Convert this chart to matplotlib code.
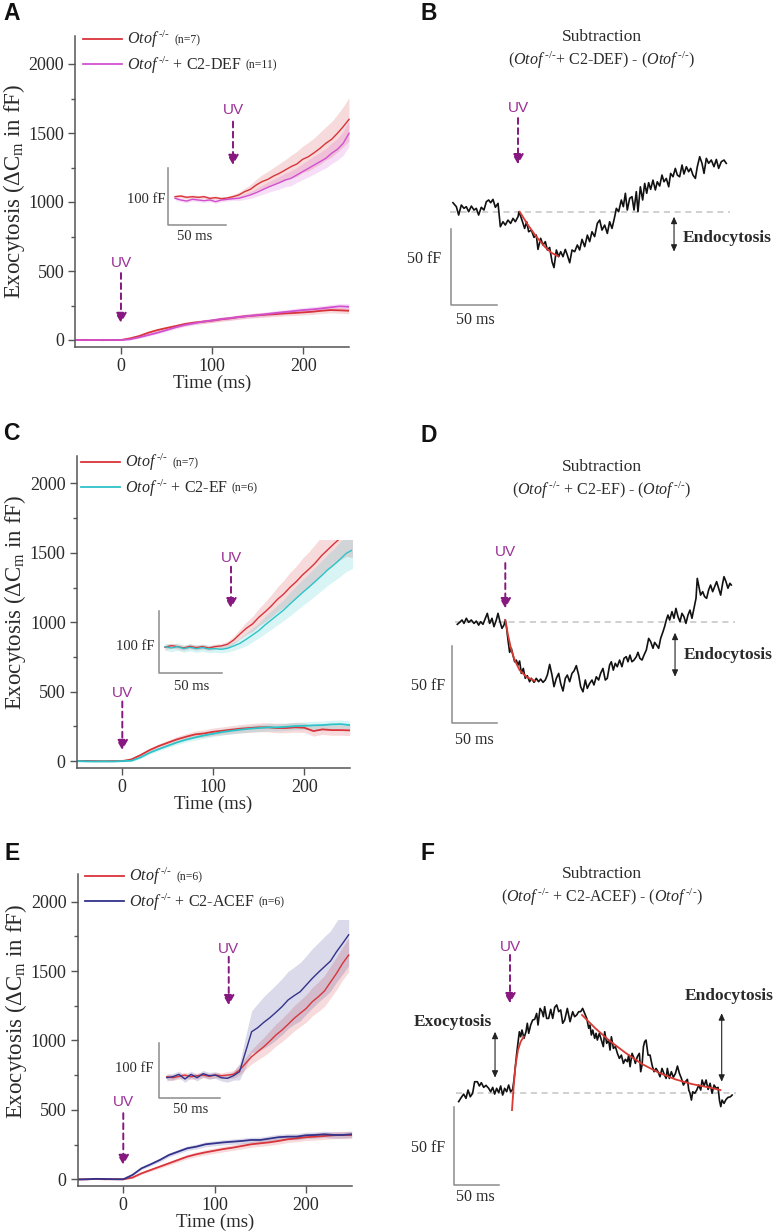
import matplotlib
matplotlib.use("Agg")
import matplotlib.pyplot as plt
from matplotlib.ticker import MultipleLocator

W, H = 777, 1232

plt.rcParams['font.family'] = 'Liberation Serif'
plt.rcParams['mathtext.fontset'] = 'custom'
plt.rcParams['mathtext.rm'] = 'Liberation Serif'
plt.rcParams['mathtext.it'] = 'Liberation Serif:italic'
plt.rcParams['mathtext.bf'] = 'Liberation Serif:bold'

# ---------------- main traces, mean dCm (fF), every 10 ms ----------------
time_ms = [-50, -40, -30, -20, -10, 0, 10, 20, 30, 40, 50, 60, 70, 80, 90, 100,
           110, 120, 130, 140, 150, 160, 170, 180, 190, 200, 210, 220, 230, 240, 250]

a_ko = [0, 1, 0, -1, 0, 0, 12, 29, 53, 72, 87, 101, 116, 126, 133, 140,
        150, 157, 167, 174, 179, 184, 188, 193, 196, 200, 205, 212, 217, 215, 212]
a_ko_sem = [3, 3, 3, 3, 3, 3, 5, 7, 9, 10, 11, 12, 13, 13, 14, 14,
            15, 15, 16, 16, 17, 17, 18, 18, 19, 19, 20, 20, 21, 21, 22]
a_def = [0, -1, 0, 1, 0, 0, 5, 19, 36, 53, 72, 92, 109, 121, 133, 142,
         152, 159, 167, 174, 181, 188, 196, 203, 210, 217, 222, 229, 237, 244, 241]
a_def_sem = [3, 3, 3, 3, 3, 3, 4, 6, 8, 9, 10, 11, 12, 12, 13, 13,
             14, 14, 15, 15, 16, 16, 17, 17, 18, 18, 19, 19, 20, 20, 21]

c_ko = [0, 1, 0, -1, 0, 0, 12, 43, 79, 108, 132, 156, 175, 192, 199, 211,
        218, 226, 233, 238, 243, 243, 238, 238, 243, 240, 216, 228, 223, 223, 221]
c_ko_sem = [4, 4, 4, 4, 4, 4, 6, 9, 12, 15, 18, 20, 22, 24, 26, 27,
            28, 29, 30, 31, 32, 33, 34, 34, 35, 35, 36, 36, 37, 37, 38]
c_ef = [0, -2, -3, -2, -3, 0, 2, 26, 60, 86, 110, 134, 154, 170, 185, 197,
        209, 218, 226, 233, 238, 243, 243, 247, 252, 254, 257, 259, 264, 266, 259]
c_ef_sem = [5, 5, 5, 5, 5, 5, 6, 8, 10, 12, 14, 16, 18, 19, 20, 21,
            22, 23, 24, 25, 26, 26, 27, 27, 28, 28, 29, 29, 30, 30, 30]

e_ko = [0, 0, 2, 0, 1, 0, 12, 43, 67, 91, 115, 139, 163, 180, 194, 206,
        218, 228, 240, 252, 259, 266, 276, 288, 295, 303, 307, 312, 317, 319, 319]
e_ko_sem = [3, 3, 3, 3, 3, 3, 5, 8, 10, 12, 14, 15, 16, 17, 18, 19,
            20, 20, 21, 21, 22, 22, 23, 23, 24, 24, 25, 25, 25, 26, 26]
e_acef = [-2, 0, 3, 2, 0, 0, 31, 79, 108, 139, 175, 199, 223, 235, 252, 259,
          266, 271, 276, 283, 283, 293, 303, 307, 307, 317, 319, 324, 319, 319, 324]
e_acef_sem = [3, 3, 3, 3, 3, 3, 6, 9, 11, 13, 14, 15, 16, 17, 18, 18,
              19, 19, 20, 20, 20, 21, 21, 21, 22, 22, 22, 22, 23, 23, 23]

# ---------------- inset traces, every 5 ms ----------------
inset_ms = [-50, -45, -40, -35, -30, -25, -20, -15, -10, -5, 0, 5, 10, 15, 20, 25,
            30, 35, 40, 45, 50, 55, 60, 65, 70, 75, 80, 85, 90, 95, 100]

ia_ko = [2.3, 3.5, 1.2, 2.3, 1.2, 2.3, -0.6, 0.6, -1.2, 0, 2.3, 5.3, 11.1, 15.2, 22.8, 28.7,
         32.7, 38.6, 43.3, 49.1, 55, 59.6, 67.8, 72.5, 79.5, 87.1, 95.9, 102.9, 113.5, 125.1, 138]
ia_ko_sem = [3, 3, 3, 3, 3, 3, 3, 3, 3, 3, 4, 5, 6, 8, 10, 12,
             14, 15, 17, 18, 20, 22, 23, 25, 26, 28, 29, 31, 33, 35, 38]
ia_def = [-0.6, -3.5, -5.3, -2.3, -3.5, -4.7, -3.5, -6.4, -3.5, -2.3, -1.2, -0.6, 2.3, 5.3, 9.4, 14,
          18.7, 22.8, 26.9, 31.6, 34.5, 40.4, 46.2, 52, 57.9, 63.7, 69.6, 78.4, 85.4, 95.9, 113.5]
ia_def_sem = [3, 3, 3, 3, 3, 3, 3, 3, 3, 3, 3, 4, 5, 6, 7, 8,
              9, 10, 11, 12, 13, 13, 14, 15, 16, 16, 17, 18, 19, 21, 23]

ic_ko = [0, 2.7, 1.1, -1.1, 1.6, -0.5, 1.1, -1.1, 1.1, 2.2, 4.9, 11.8, 21.5, 30.6, 37.6, 48.4,
         57, 66.6, 77.4, 86, 96.8, 105.9, 116.7, 125.8, 135.5, 147.3, 157, 166.6, 175.8, 182.7, 181.7]
ic_ko_sem = [4, 4, 4, 4, 4, 4, 4, 4, 4, 4, 5, 6, 8, 10, 12, 14,
             16, 18, 20, 22, 24, 25, 27, 28, 30, 31, 32, 33, 35, 36, 37]
ic_ef = [1.1, -1.1, 1.1, -2.2, 0, -2.2, -0.5, -2.7, -2.2, -3.2, -1.6, 2.2, 6.5, 12.9, 19.9, 26.9,
         36, 44.1, 52.2, 60.2, 69.9, 79, 88.2, 96.8, 105.9, 115, 124.7, 132.8, 141.9, 151.6, 157]
ic_ef_sem = [6, 6, 6, 6, 6, 6, 6, 6, 6, 6, 6, 7, 8, 10, 11, 12,
             14, 15, 16, 17, 19, 20, 21, 22, 23, 24, 25, 26, 28, 29, 30]

ie_ko = [0, -1.8, 0.6, 3, 0, 1.8, 3, 0.6, 3, 1.8, 3, 4.2, 12.1, 24.2, 36.4, 45.5,
         54.5, 64.8, 75.8, 84.8, 95.2, 106.1, 115.2, 124.2, 136.4, 145.5, 155.8, 172, 188, 206.1, 221.2]
ie_ko_sem = [5, 5, 5, 5, 5, 5, 5, 5, 5, 5, 6, 7, 9, 11, 13, 15,
             17, 19, 20, 21, 22, 23, 24, 25, 26, 27, 28, 29, 30, 30, 31]
ie_acef = [-1.8, 0, 4.2, -4.2, 4.2, -1.8, 5.5, 1.8, 3, -1.8, -3, 1.8, 9.1, 45.5, 81.8, 89.1,
           98.8, 107.3, 117, 127.3, 139.4, 147.3, 154.5, 166.7, 178.8, 189.7, 200, 210.3, 227.3, 242.4, 258]
ie_acef_sem = [6, 6, 6, 6, 6, 6, 6, 6, 6, 6, 7, 8, 15, 28, 38, 44,
               47, 49, 50, 51, 52, 52, 53, 53, 54, 54, 55, 55, 55, 56, 56]

# ---------------- subtraction traces (ms, fF) ----------------
b_t = [-70.7, -67.0, -64.5, -61.6, -58.7, -56.2, -53.6, -50.7, -47.8, -45.3, -42.8, -39.9, -37.0,
       -34.4, -31.9, -29.7, -27.2, -24.6, -21.7, -19.2, -16.3, -13.8, -10.9, -8.0, -5.4, -2.9, 0.0,
       1.1, 4.3, 7.2, 9.4, 11.6, 14.5, 17.4, 19.9, 21.7, 24.6, 27.2, 29.7, 31.9, 34.4, 37.0, 39.1,
       41.7, 44.2, 46.4, 48.9, 51.4, 53.6, 56.2, 58.7, 61.6, 64.5, 67.0, 69.6, 72.5, 75.4, 77.9,
       80.4, 83.3, 86.2, 88.8, 91.3, 94.2, 97.1, 99.6, 102.2, 105.1, 106.9, 109.4, 112.3, 114.5,
       116.7, 118.8, 121.4, 123.9, 126.1, 128.6, 130.4, 133.0, 135.5, 137.7, 139.9, 142.0, 144.2,
       146.7, 149.3, 151.4, 154.0, 156.5, 158.7, 161.2, 163.8, 165.9, 168.5, 171.0, 173.2, 175.7,
       178.3, 180.4, 183.0, 185.5, 187.7, 190.2, 192.8, 194.9, 197.5, 200.0, 202.2, 204.7, 207.2,
       210.1, 213.0, 215.6, 218.1, 221.0, 223.9, 226.4]
b_ff = [5.9, 3.3, -2.2, 4.4, 2.2, 3.3, 0, 3.7, 1.1, 2.2, -2.2, 2.9, 1.1,
        6.6, 7.7, 5.9, 8.1, 2.9, 5.5, -9.9, -6.6, -8.8, -5.5, -7.7, -4.4, -6.6, -3.3,
        0, -5.5, -11.0, -6.6, -13.2, -12.1, -16.9, -15.4, -24.8, -17.5, -21.9, -19.7, -25.2, -23.5, -32.9, -36.8,
        -25.2, -29.6, -26.3, -29.6, -24.8, -28.5, -33.6, -25.2, -26.3, -21.9, -25.2, -18.2, -23.0, -15.4, -19.7,
        -13.2, -16.4, -7.7, -5.5, -12.1, -8.8, -14.3, -6.6, -11.0, -3.3, 2.2, 0, 7.7, 3.3,
        12.1, 1.1, 8.8, 9.9, 1.1, 13.2, 0, 16.4, 7.7, 18.6, 12.1, 19.1, 14.7,
        20.8, 14.3, 19.7, 16.9, 24.1, 19.7, 21.9, 16.4, 25.2, 23.0, 28.5, 24.1, 23.0,
        30.7, 24.8, 29.6, 26.3, 28.5, 24.1, 21.9, 29.6, 36.2, 31.8, 25.2, 35.1, 31.8,
        34.0, 29.6, 34.4, 28.5, 32.9, 34.0, 31.8]
b_fit_t = [1.8, 10.9, 19.9, 29.0, 36.2, 43.5]
b_fit_ff = [0, -8.8, -16.4, -23.0, -27.0, -29.2]

d_t = [-53.3, -50.7, -48.1, -45.9, -43.3, -40.7, -37.8, -34.8, -32.2, -29.6, -27.4, -24.8, -22.2,
       -20.0, -17.4, -14.8, -12.6, -10.0, -8.1, -5.9, -3.7, -1.5, 0.0, 1.5, 3.0, 4.8, 6.7, 8.5,
       10.4, 12.2, 14.1, 15.9, 17.8, 20.0, 22.2, 24.4, 27.0, 28.9, 31.9, 34.4, 37.0, 39.3, 41.9,
       44.4, 46.7, 49.3, 51.9, 54.1, 56.7, 59.3, 61.5, 64.1, 66.7, 68.9, 71.5, 74.1, 76.3, 78.9,
       81.5, 83.7, 86.3, 88.9, 91.1, 93.7, 96.3, 98.5, 101.1, 103.7, 105.9, 108.5, 111.1, 113.3,
       115.9, 117.8, 120.0, 122.2, 124.4, 127.0, 129.6, 131.9, 134.4, 136.3, 138.5, 140.7, 143.0,
       145.6, 147.4, 149.6, 151.9, 154.1, 156.7, 159.3, 161.5, 164.1, 165.9, 168.1, 170.4, 172.6,
       175.2, 177.0, 178.9, 180.7, 182.6, 185.2, 187.4, 189.6, 191.9, 194.1, 196.3, 198.5, 200.7,
       203.0, 205.2, 207.4, 209.6, 211.9, 213.3, 214.8, 217.0, 219.3, 221.5, 223.7, 225.9, 228.1,
       230.4, 232.6, 234.8, 237.0, 239.3, 241.5, 243.0, 245.2, 247.4, 249.6, 251.1]
d_ff = [-1.7, -0.4, 1.1, -1.1, 2.2, -0.4, 1.1, -1.1, 0.4, -2.2, 0, -1.7, 2.2,
        5.4, -1.1, 2.2, -3.2, 1.1, 5.4, 0, -4.3, -2.2, 1.1, -4.3, -11.9, -19.8, -17.2, -21.6,
        -25.9, -24.8, -28.0, -25.4, -33.4, -30.2, -36.6, -34.9, -38.8, -36.6, -39.2, -36.6, -38.8, -37.1, -39.2,
        -37.7, -34.5, -27.6, -34.5, -42.0, -36.6, -33.4, -39.9, -44.8, -36.6, -34.5, -38.8, -33.4, -31.9, -28.4,
        -34.5, -42.0, -45.3, -37.7, -43.1, -39.9, -37.7, -40.9, -35.6, -37.7, -33.4, -30.2, -37.7, -36.6,
        -28.0, -25.9, -31.3, -26.9, -29.1, -24.8, -29.1, -23.7, -22.6, -25.9, -21.6, -25.9, -24.8,
        -22.6, -19.8, -23.7, -24.8, -21.6, -18.3, -10.8, -12.9, -17.2, -13.4, -15.1, -17.2, -10.8,
        -6.5, -3.2, 1.1, 4.3, 1.1, 6.5, 2.2, 8.6, 3.2, 0, 5.4, 3.2, -1.1,
        4.3, 7.5, 2.2, 8.6, 15.1, 28.0, 23.7, 17.2, 19.4, 16.2, 15.1, 20.5, 23.7,
        19.4, 22.6, 25.9, 21.6, 17.2, 24.8, 29.1, 25.9, 21.6, 24.8, 23.7]
d_fit_t = [0.0, 3.0, 6.7, 10.4, 15.9, 23.3, 33.3]
d_fit_ff = [1.1, -8.6, -18.3, -24.8, -31.3, -35.6, -38.4]

f_t = [-56.6, -53.7, -51.1, -48.5, -46.3, -43.8, -41.2, -39.0, -36.0, -33.8, -31.6, -29.0, -26.5,
       -23.5, -21.3, -19.1, -16.9, -14.7, -12.5, -10.3, -8.1, -5.9, -3.7, -1.5, 0.7, 2.9, 4.4, 5.9,
       7.4, 8.8, 10.3, 11.8, 13.2, 15.4, 17.6, 19.1, 20.6, 22.8, 25.0, 27.2, 29.4, 30.9, 33.1, 35.3,
       36.8, 38.2, 40.4, 42.6, 44.9, 47.1, 49.3, 51.5, 53.7, 55.9, 58.1, 60.3, 63.2, 66.2, 69.1,
       71.3, 73.5, 75.7, 77.9, 80.1, 82.4, 84.6, 86.8, 88.2, 89.7, 91.2, 93.4, 94.9, 96.3, 98.5,
       100.7, 102.9, 104.4, 106.6, 108.8, 110.3, 111.8, 114.0, 116.2, 118.4, 120.6, 122.8, 125.0,
       127.2, 129.4, 130.9, 132.4, 134.6, 136.8, 138.2, 140.4, 142.6, 144.1, 145.6, 147.1, 148.5,
       150.0, 152.2, 154.4, 156.6, 158.8, 161.0, 163.2, 165.4, 167.6, 169.9, 172.1, 173.5, 175.7,
       177.9, 180.1, 182.4, 184.6, 186.8, 189.0, 191.2, 193.4, 195.6, 197.1, 198.5, 200.0, 201.5,
       203.7, 205.9, 208.1, 210.3, 211.8, 214.0, 216.2, 218.4, 220.6, 222.8, 225.0, 227.2, 229.4,
       230.9, 232.4, 233.8, 236.0, 238.2, 240.4, 243.0, 244.9]
f_ff = [-5.7, -3.0, -0.9, -3.6, 1.7, -2.6, -0.4, 7.0, 7.0, 4.3, 6.4, 3.4, 4.7,
        2.8, 0.6, 3.4, -0.9, 2.8, 0, 4.3, -1.5, 2.8, 0.6, 4.9, 0.6, 2.1, 8.1, 16.6,
        25.1, 31.9, 38.9, 35.7, 40.0, 34.7, 38.9, 44.3, 37.9, 43.2, 46.4, 46.8, 50.6, 43.2, 53.8, 51.7,
        48.5, 54.9, 47.4, 47.4, 53.2, 47.4, 54.5, 56.0, 51.7, 52.8, 44.3, 46.4, 53.8, 45.3, 51.7,
        48.5, 49.6, 51.7, 51.7, 53.8, 50.6, 47.4, 41.1, 43.2, 36.8, 40.0, 34.7, 37.9, 33.6, 37.9,
        33.6, 29.4, 38.9, 31.5, 33.6, 27.2, 35.7, 28.3, 29.4, 25.1, 21.9, 24.0, 18.7,
        21.3, 19.8, 24.0, 16.6, 25.1, 21.9, 18.7, 23.0, 25.1, 13.4, 17.7, 29.4, 32.6,
        33.6, 24.0, 24.0, 17.7, 13.4, 15.5, 13.4, 10.2, 15.5, 11.9, 9.1, 15.5, 9.1,
        13.4, 9.8, 12.3, 17.0, 12.3, 9.1, 4.9, 7.0, 8.5, 1.7, -0.4, -4.7, 0.6,
        -0.4, 1.7, 4.9, 1.7, 8.1, 4.3, 8.1, 2.1, 6.0, -0.4, 4.9, 2.8, 3.4,
        -4.7, -8.9, -4.7, -6.8, -4.3, -3.0, -2.6, -1.5]
f_rise_t = [2.2, 4.0, 5.9, 8.8, 11.8, 15.1]
f_rise_ff = [-11.1, 3.8, 16.6, 27.2, 32.6, 35.7]
f_decay_t = [79.4, 94.1, 108.8, 127.2, 145.6, 164.0, 182.4, 200.7, 219.1, 232.0]
f_decay_ff = [49.6, 41.1, 33.6, 25.5, 18.3, 12.8, 8.5, 5.5, 3.4, 1.7]

KO_RED = '#d8343a'
DEF_MAG = '#d24fd0'
EF_CYAN = '#2cc3c8'
ACEF_BLUE = '#33338c'
UV_TXT = '#9c3197'
UV_ARR = '#86187f'
TXT = '#2a2a2a'
KO = r'$\mathit{Otof}^{\,\text{-/-}}$'

fig = plt.figure(figsize=(W / 100, H / 100), dpi=100)


def rect(l, t, r, b):
    return [l / W, 1 - b / H, (r - l) / W, (b - t) / H]


def ftext(x, y, s, **kw):
    fig.text(x / W, 1 - y / H, s, **kw)


def scaled_axes(l, t, r, b, x0, y0, sx, sy):
    # axes whose data units map to sx, sy pixels per unit, with (0,0) at pixel (x0, y0)
    ax = fig.add_axes(rect(l, t, r, b))
    ax.set_xlim((l - x0) / sx, (r - x0) / sx)
    ax.set_ylim((y0 - b) / sy, (y0 - t) / sy)
    ax.set_axis_off()
    return ax


def uv_arrow(ax, x, y_txt, y_from, y_to):
    ax.text(x, y_txt, 'UV', color=UV_TXT, ha='center', va='center',
            fontsize=11, family='Liberation Sans')
    ax.annotate('', xy=(x, y_to), xytext=(x, y_from), annotation_clip=False,
                arrowprops=dict(arrowstyle='-|>,head_width=0.34,head_length=0.6',
                                color=UV_ARR, lw=1.4, ls=(0, (3, 2.2)),
                                shrinkA=0, shrinkB=0))


def double_arrow(ax, x, y0, y1):
    ax.annotate('', xy=(x, y1), xytext=(x, y0), annotation_clip=False,
                arrowprops=dict(arrowstyle='<|-|>,head_width=0.18,head_length=0.4',
                                color='#222222', lw=0.8, shrinkA=0, shrinkB=0))


def scale_bar(ax, x, y, dx, dy, xlab, xpos, ylab, ypos, fs):
    ax.plot([x, x, x + dx], [y + dy, y, y], color='#8c8c8c', lw=1.1, clip_on=False)
    ax.text(ypos[0], ypos[1], ylab, ha='right', va='center', fontsize=fs, color=TXT)
    ax.text(xpos[0], xpos[1], xlab, ha='center', va='center', fontsize=fs, color=TXT)


def band(ax, t, m, s, color, lw, alpha):
    lo = [a - b for a, b in zip(m, s)]
    hi = [a + b for a, b in zip(m, s)]
    ax.fill_between(t, lo, hi, color=color, alpha=alpha, lw=0)
    return ax.plot(t, m, color=color, lw=lw)[0]


def main_panel(box, traces, ylab_y, uv, inset_box, inset_map, inset_traces, inset_uv, bar):
    ax = fig.add_axes(rect(*box))
    ax.set_xlim(-50, 250)
    ax.set_ylim(-50, 2200)
    for side in ('top', 'right'):
        ax.spines[side].set_visible(False)
    for side in ('left', 'bottom'):
        ax.spines[side].set_color('#555555')
        ax.spines[side].set_linewidth(1.1)
    ax.xaxis.set_major_locator(MultipleLocator(100))
    ax.yaxis.set_major_locator(MultipleLocator(500))
    ax.yaxis.set_minor_locator(MultipleLocator(250))
    ax.tick_params(which='both', direction='out', colors='#555555', labelcolor=TXT,
                   labelsize=13, width=1)
    ax.tick_params(which='major', length=5, pad=3)
    ax.tick_params(which='minor', length=3)
    ax.set_xlabel('Time (ms)', fontsize=13.5, color=TXT)
    ax.xaxis.set_label_coords(0.5, -0.088)
    ax.set_ylabel('Exocytosis (ΔC$_\\mathrm{m}$ in fF)', fontsize=16.5, color=TXT,
                  va='center')
    ax.yaxis.set_label_coords(-0.226, ylab_y)
    handles = []
    for m, s, c in traces:
        handles.append(band(ax, time_ms, m, s, c, 1.3, 0.18))
    uv_arrow(ax, 0, *uv)

    ins = scaled_axes(*inset_box, *inset_map)
    for m, s, c in inset_traces:
        band(ins, inset_ms, m, s, c, 1.0, 0.18)
    uv_arrow(ins, *inset_uv)
    scale_bar(ins, bar[0], bar[1], 50, 100, '50 ms', bar[2], '100 fF', bar[3], 10.5)
    return ax, handles


def add_legend(ax, handles, labels, anchor):
    leg = ax.legend(handles, labels, loc='upper left',
                    bbox_to_anchor=(anchor[0] / W, 1 - anchor[1] / H),
                    bbox_transform=fig.transFigure, frameon=False, fontsize=11.5,
                    handlelength=2.45, handletextpad=0.3, labelspacing=0.25,
                    borderpad=0, borderaxespad=0)
    for txt in leg.get_texts():
        txt.set_color(TXT)
    return leg


def sub_panel(box, mapping, t, ff, fits, uv, bar, title, y_title):
    ax = scaled_axes(*box, *mapping)
    ax.hlines(0, min(t) - 3, max(t) + 4, colors='#c4c4c4', lw=1.1, linestyles=(0, (4, 3)))
    ax.plot(t, ff, color='#111111', lw=1.2)
    for ft, fv in fits:
        ax.plot(ft, fv, color='#d93a33', lw=1.3)
    uv_arrow(ax, 0, *uv)
    scale_bar(ax, bar[0], bar[1], 50, 50, '50 ms', bar[2], '50 fF', bar[3], 11.5)
    ftext(601.7, y_title, 'Subtraction', ha='center', va='center', fontsize=12.5, color=TXT)
    ftext(601.7, y_title + 23.5, title, ha='center', va='center', fontsize=11.5, color=TXT)
    return ax


# ---------------- panel A ----------------
axA, hA = main_panel((75.4, 36.4, 348.9, 346.9),
                     [(a_ko, a_ko_sem, KO_RED), (a_def, a_def_sem, DEF_MAG)],
                     0.5, (558, 485, 123),
                     (145, 95, 352, 250), (233, 198, 1.16, 0.57),
                     [(ia_ko, ia_ko_sem, KO_RED), (ia_def, ia_def_sem, DEF_MAG)],
                     (0, 154, 134, 58),
                     (-56, -47.4, (-32.8, -68.4), (-58.6, -3.5)))
legA = add_legend(axA, hA, [KO, KO + ' + C2-DEF'], (83, 29))

# ---------------- panel C ----------------
axC, hC = main_panel((76.8, 455.6, 349.8, 768),
                     [(c_ko, c_ko_sem, KO_RED), (c_ef, c_ef_sem, EF_CYAN)],
                     0.53, (488, 429, 79),
                     (140, 540, 352, 700), (227.5, 647.3, 1.25, 0.62),
                     [(ic_ko, ic_ko_sem, KO_RED), (ic_ef, ic_ef_sem, EF_CYAN)],
                     (2.8, 143.5, 130, 63),
                     (-54.6, -41.9, (-28.6, -63.5), (-58, 2)))
legC = add_legend(axC, hC, [KO, KO + ' + C2-EF'], (81, 452))

# ---------------- panel E ----------------
axE, hE = main_panel((77.6, 873.9, 351.7, 1186.2),
                     [(e_ko, e_ko_sem, KO_RED), (e_acef, e_acef_sem, ACEF_BLUE)],
                     0.56, (560, 476, 103),
                     (140, 920, 352, 1125), (227.4, 1076.7, 1.213, 0.55),
                     [(ie_ko, ie_ko_sem, KO_RED), (ie_acef, ie_acef_sem, ACEF_BLUE)],
                     (1.1, 233, 218, 130),
                     (-56.1, -38.2, (-30.6, -59.3), (-61.3, 15.3)))
legE = add_legend(axE, hE, [KO, KO + ' + C2-ACEF'], (85, 866))

# ---------------- panel B ----------------
axB = sub_panel((430, 95, 777, 335), (518, 211.7, 0.92, 1.52), b_t, b_ff,
                [(b_fit_t, b_fit_ff)], (68, 61.6, 31.2),
                (-72.8, -61.6, (-46.7, -71.3), (-83.0, -31.3)),
                r'($\mathit{Otof}^{\,\text{-/-}}$+ C2-DEF) - ($\mathit{Otof}^{\,\text{-/-}}$)', 36.7)
double_arrow(axB, 169.6, -3.3, -26.3)
axB.text(179.3, -17.5, 'Endocytosis', fontsize=12.5, fontweight='bold', ha='left',
         va='center', color=TXT)

# ---------------- panel D ----------------
axD = sub_panel((430, 520, 777, 750), (505.3, 621.7, 0.9, 1.547), d_t, d_ff,
                [(d_fit_t, d_fit_ff)], (45.2, 37.9, 8.7),
                (-59.6, -65.7, (-34.8, -76.5), (-67.0, -41.6)),
                r'($\mathit{Otof}^{\,\text{-/-}}$ + C2-EF) - ($\mathit{Otof}^{\,\text{-/-}}$)', 466.7)
double_arrow(axD, 188.6, -7.1, -35.6)
axD.text(197.8, -21.5, 'Endocytosis', fontsize=12.5, fontweight='bold', ha='left',
         va='center', color=TXT)

# ---------------- panel F ----------------
axF = sub_panel((430, 930, 777, 1210), (510, 1092.7, 0.907, 1.567), f_t, f_ff,
                [(f_rise_t, f_rise_ff), (f_decay_t, f_decay_ff)], (93.2, 87.9, 57.1),
                (-61.7, -58.9, (-38.6, -66.8), (-71.7, -35.5)),
                r'($\mathit{Otof}^{\,\text{-/-}}$ + C2-ACEF) - ($\mathit{Otof}^{\,\text{-/-}}$)', 874)
double_arrow(axF, -16.5, 38.9, 9.6)
axF.text(-63.5, 45.3, 'Exocytosis', fontsize=12.5, fontweight='bold', ha='center',
         va='center', color=TXT)
double_arrow(axF, 233.4, 50.7, 7.0)
axF.text(241.8, 61.7, 'Endocytosis', fontsize=12.5, fontweight='bold', ha='center',
         va='center', color=TXT)

# panel letters
for letter, x, y in [('A', 3, 13), ('B', 420, 13), ('C', 3, 433), ('D', 420, 435),
                     ('E', 4, 853), ('F', 421, 853)]:
    ftext(x, y, letter, fontsize=16.5, fontweight='bold', family='Liberation Sans',
          ha='left', va='center', color='#111111')

# sample sizes appended after legend labels in a smaller font
fig.canvas.draw()
rend = fig.canvas.get_renderer()
for leg, counts in [(legA, ['(n=7)', '(n=11)']), (legC, ['(n=7)', '(n=6)']),
                    (legE, ['(n=6)', '(n=6)'])]:
    for txt, n in zip(leg.get_texts(), counts):
        bb = txt.get_window_extent(rend)
        fig.text((bb.x1 + 4) / W, (bb.y0 + 4.5) / H, n, fontsize=8.5, color=TXT,
                 va='bottom', ha='left')

fig.savefig('out.png', dpi=100)
